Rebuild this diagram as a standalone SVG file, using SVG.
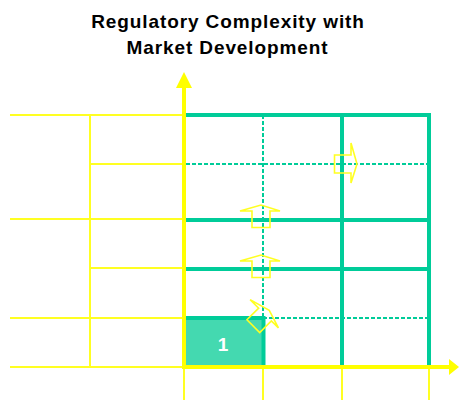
<svg xmlns="http://www.w3.org/2000/svg" xmlns:xlink="http://www.w3.org/1999/xlink" width="459" height="402" viewBox="0 0 459 402">
<style>
.title{font-family:"Liberation Sans",Arial,sans-serif;font-weight:bold;font-size:19px;letter-spacing:0.9px;fill:#000;text-anchor:middle}
.num{font-family:"Liberation Sans",Arial,sans-serif;font-weight:bold;font-size:19px;fill:#fff;text-anchor:middle}
.ythin{stroke:#FFFF22;stroke-width:2;fill:none}
.ythick{stroke:#FFFF00;stroke-width:4;fill:none}
.gthick{stroke:#00CC99;stroke-width:4;fill:none}
.gdash{stroke:#00CC99;stroke-width:2;stroke-dasharray:4 2;fill:none}
.barrow{stroke:#FFFF22;stroke-width:1.6;fill:none;stroke-linejoin:miter}
</style>
<defs>
<path id="uparrow" d="M-21,0 L0,-6 L19,0 L9,0 L9,16.5 L-9,16.5 L-9,0 Z"/>
</defs>
<g id="title">
<text class="title" x="228" y="28">Regulatory Complexity with</text>
<text class="title" x="227.5" y="54">Market Development</text>
</g>
<g id="cell-1">
<rect x="186" y="318" width="77" height="47" fill="#44D9B0"/>
<text class="num" x="223" y="351">1</text>
</g>
<g id="connectors">
<!-- left yellow grid -->
<line class="ythin" x1="10" y1="115" x2="183" y2="115"/>
<line class="ythin" x1="90" y1="164" x2="183" y2="164"/>
<line class="ythin" x1="10" y1="219" x2="183" y2="219"/>
<line class="ythin" x1="90" y1="268" x2="183" y2="268"/>
<line class="ythin" x1="10" y1="318" x2="183" y2="318"/>
<line class="ythin" x1="10" y1="367" x2="183" y2="367"/>
<line class="ythin" x1="90" y1="115" x2="90" y2="367"/>
<!-- ticks below x axis -->
<line class="ythin" x1="184" y1="367" x2="184" y2="400"/>
<line class="ythin" x1="263" y1="367" x2="263" y2="400"/>
<line class="ythin" x1="342" y1="367" x2="342" y2="400"/>
<line class="ythin" x1="429" y1="367" x2="429" y2="400"/>
<!-- green grid -->
<line class="gdash" x1="186" y1="164" x2="429" y2="164"/>
<line class="gdash" x1="263" y1="115" x2="263" y2="318"/>
<line class="gdash" x1="263" y1="318" x2="429" y2="318"/>
<line class="gthick" x1="186" y1="115" x2="431" y2="115"/>
<line class="gthick" x1="186" y1="220" x2="429" y2="220"/>
<line class="gthick" x1="186" y1="269" x2="429" y2="269"/>
<line class="gthick" x1="342" y1="115" x2="342" y2="365"/>
<line class="gthick" x1="429" y1="115" x2="429" y2="365"/>
<line class="gthick" x1="186" y1="318" x2="265" y2="318"/>
<line class="gthick" x1="263.5" y1="316" x2="263.5" y2="365"/>
<!-- axes -->
<line class="ythick" x1="184" y1="86" x2="184" y2="369"/>
<polygon points="176,88 192,88 184,72" fill="#FFFF00"/>
<line class="ythick" x1="182" y1="367" x2="450" y2="367"/>
<polygon points="449,359 449,375 459,367" fill="#FFFF00"/>
<!-- block arrows -->
<use xlink:href="#uparrow" class="barrow" transform="translate(261,211)"/>
<use xlink:href="#uparrow" class="barrow" transform="translate(261,261)"/>
<use xlink:href="#uparrow" class="barrow" transform="translate(351,164) rotate(90)"/>
<use xlink:href="#uparrow" class="barrow" transform="translate(265,314.5) rotate(45)"/>
</g>
</svg>
